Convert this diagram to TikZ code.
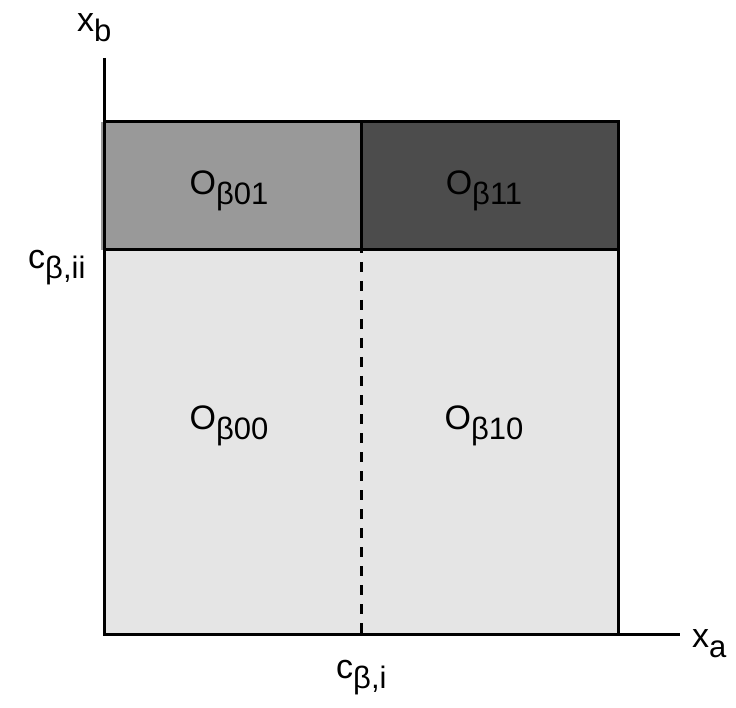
\documentclass[tikz,border=0pt]{standalone}
\usepackage{fontspec}
\setmainfont{Liberation Sans}
\newcommand{\lbl}[2]{#1\raisebox{-10pt}{\fontsize{31}{35}\selectfont #2}}
\begin{document}
\begin{tikzpicture}[x=1pt,y=-1pt,
  frame/.style={line width=3pt},
  divider/.style={line width=3pt,dash pattern=on 10pt off 9pt},
  lab/.style={font=\fontsize{34}{38}\selectfont, inner sep=0pt, anchor=base},
  region/.style={lab, anchor=center}]
  \useasboundingbox (0,0) rectangle (736,708);
  % corners of the partition
  \coordinate (o) at (104,634);
  \coordinate (tl) at (104,122);
  \coordinate (tr) at (618,122);
  \coordinate (br) at (618,634);
  \coordinate (ml) at (104,250);
  \coordinate (mr) at (618,250);
  \coordinate (mt) at (361,122);
  \coordinate (mm) at (361,250);
  \coordinate (mb) at (361,634);
  \coordinate (ytop) at (104,58);
  \coordinate (xend) at (680,634);
  % filled regions
  \fill[black!10] (ml) rectangle (br);
  \fill[black!40] (101,122) rectangle (mm);
  \fill[black!70] (mt) rectangle (mr);
  % outlines
  \draw[frame] (tl) -- (tr) -- (br);
  \draw[frame] (ml) -- (mr);
  \draw[frame] (mt) -- (mm);
  \draw[divider] ([yshift=7pt]mm) -- (mb);
  % axes
  \draw[frame] (ytop) -- (o) -- (xend);
  % region labels
  \node[region] (o01) at (229,191) {\lbl{O}{β01}};
  \node[region] (o11) at (484,191) {\lbl{O}{β11}};
  \node[region] (o00) at (229,426) {\lbl{O}{β00}};
  \node[region] (o10) at (484,426) {\lbl{O}{β10}};
  % axis labels
  \node[lab, anchor=base west] (xb) at (77,32) {\lbl{x}{b}};
  \node[lab, anchor=base west] (xa) at (692,647) {\lbl{x}{a}};
  \node[lab, anchor=base west] (cii) at (28,269) {\lbl{c}{β,ii}};
  \node[lab, anchor=base west] (ci) at (336,678) {\lbl{c}{β,i}};
\end{tikzpicture}
\end{document}
